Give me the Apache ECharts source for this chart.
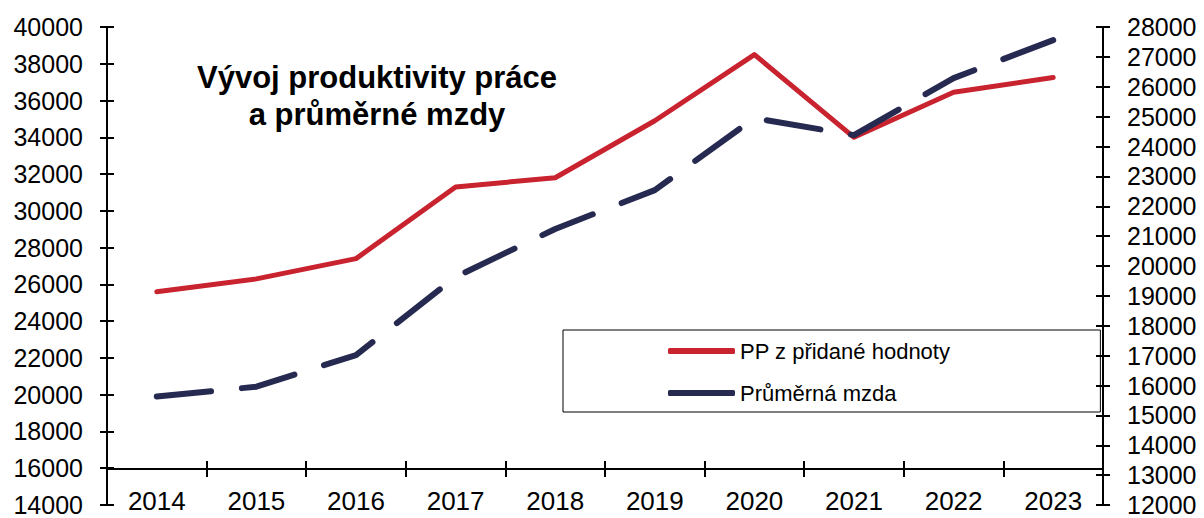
<!DOCTYPE html>
<html>
<head>
<meta charset="utf-8">
<script src="https://cdn.jsdelivr.net/npm/echarts@6/dist/echarts.min.js"></script>
<style>
  html, body { margin: 0; padding: 0; background: #fff; }
  #chart { width: 1204px; height: 518px; }
</style>
</head>
<body>
<div id="chart"></div>
<script>
// roky na ose x
const years = ["2014", "2015", "2016", "2017", "2018", "2019", "2020", "2021", "2022", "2023"];
// PP z přidané hodnoty (levá osa)
const productivity = [25600, 26300, 27400, 31300, 31800, 34900, 38500, 34000, 36450, 37250];
// průměrná mzda (pravá osa)
const wage = [15630, 15960, 17020, 19630, 21240, 22540, 24950, 24380, 26290, 27560];

const seriesNames = ["PP z přidané hodnoty", "Průměrná mzda"];
const titleText = "Vývoj produktivity práce\na průměrné mzdy";

const font = "Liberation Sans";
const black = "#000";
const red = "#c8232f";
const navy = "#262a50";

const myChart = echarts.init(document.getElementById("chart"), null, { renderer: "svg" });

// osa y - jedna s popisky a vnějšími značkami, druhá jen s vnitřními značkami (kříž)
function yAx(pos, min, max, step, inside) {
  return {
    type: "value",
    position: pos,
    min: min,
    max: max,
    interval: step,
    axisLine: { show: !inside, lineStyle: { color: black, width: 2 } },
    axisTick: { show: true, inside: inside, length: 7, lineStyle: { color: black, width: 2 } },
    axisLabel: {
      show: !inside,
      margin: 24,
      color: black,
      fontFamily: font,
      fontSize: 25,
      formatter: (v) => String(v),
    },
    splitLine: { show: false },
  };
}

const option = {
  backgroundColor: "#fff",
  animation: false,
  grid: { left: 107, right: 101, top: 27, bottom: 13 },
  graphic: [
    {
      type: "text",
      x: 377,
      y: 59,
      style: {
        text: titleText,
        textAlign: "center",
        textVerticalAlign: "top",
        fontFamily: font,
        fontWeight: "bold",
        fontSize: 31,
        lineHeight: 37,
        fill: black,
      },
    },
  ],
  legend: {
    orient: "vertical",
    left: 563,
    top: 330,
    padding: [9, 150, 7, 105],
    itemGap: 18,
    itemWidth: 67,
    itemHeight: 6,
    borderColor: black,
    borderWidth: 1,
    textStyle: { fontFamily: font, fontSize: 22, color: black, lineHeight: 24 },
    data: [
      { name: seriesNames[0], icon: "roundRect", itemStyle: { color: red } },
      { name: seriesNames[1], icon: "roundRect", itemStyle: { color: navy } },
    ],
  },
  xAxis: [
    {
      type: "category",
      data: years,
      position: "bottom",
      offset: -36,
      boundaryGap: true,
      axisLine: { show: true, lineStyle: { color: black, width: 2 } },
      axisTick: { show: true, length: 8, lineStyle: { color: black, width: 2 } },
      axisLabel: { show: false },
    },
    {
      type: "category",
      data: years,
      position: "bottom",
      offset: -36,
      boundaryGap: true,
      axisLine: { show: false },
      axisTick: { show: true, inside: true, length: 8, lineStyle: { color: black, width: 2 } },
      axisLabel: { show: false },
    },
    {
      type: "category",
      data: years,
      position: "bottom",
      offset: -20,
      boundaryGap: true,
      axisLine: { show: false },
      axisTick: { show: false },
      axisLabel: { margin: 3, color: black, fontFamily: font, fontSize: 26 },
    },
  ],
  yAxis: [
    yAx("left", 14000, 40000, 2000, false),
    yAx("left", 14000, 40000, 2000, true),
    yAx("right", 12000, 28000, 1000, false),
    yAx("right", 12000, 28000, 1000, true),
  ],
  series: [
    {
      name: seriesNames[0],
      type: "line",
      xAxisIndex: 0,
      yAxisIndex: 0,
      data: productivity,
      symbol: "none",
      lineStyle: { color: red, width: 5, cap: "round", join: "round" },
      itemStyle: { color: red },
      z: 3,
    },
    {
      name: seriesNames[1],
      type: "line",
      xAxisIndex: 0,
      yAxisIndex: 2,
      data: wage,
      symbol: "none",
      lineStyle: { color: navy, width: 6, type: [54.5, 31], cap: "round", join: "round" },
      itemStyle: { color: navy },
      z: 4,
    },
  ],
};

myChart.setOption(option);
</script>
</body>
</html>
